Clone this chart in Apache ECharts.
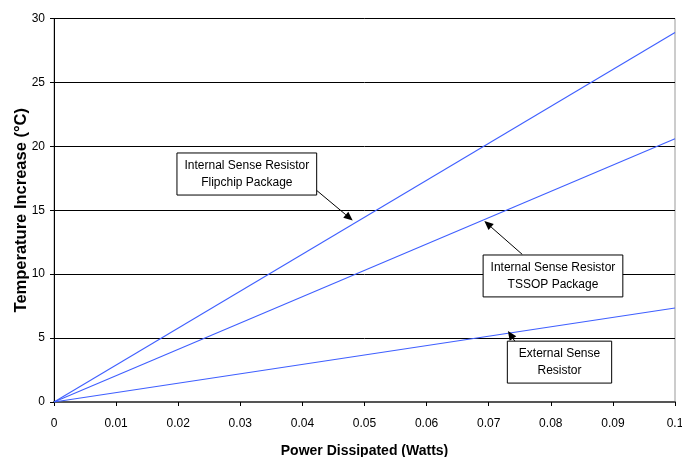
<!DOCTYPE html>
<html><head><meta charset="utf-8">
<script src="https://cdn.jsdelivr.net/npm/echarts@6/dist/echarts.min.js"></script>
<style>html,body{margin:0;padding:0;background:#fff}#c{width:682px;height:457px}</style>
</head><body><div id="c"></div>
<script>
const xTicks = [0,0.01,0.02,0.03,0.04,0.05,0.06,0.07,0.08,0.09,0.1];
const flipchip = [[0,0],[0.1,28.9]];
const tssop = [[0,0],[0.1,20.6]];
const external = [[0,0],[0.1,7.35]];
// annotations: box (data coords: x0,x1,yTop,yBottom), arrow from -> to
const notes = [
  {lines:['Internal Sense Resistor','Flipchip Package'], box:[0.0198,0.0423,19.48,16.19], from:[0.0423,16.55], to:[0.0481,14.2]},
  {lines:['Internal Sense Resistor','TSSOP Package'], box:[0.0691,0.0916,11.5,8.22], from:[0.0754,11.55], to:[0.0693,14.15]},
  {lines:['External Sense','Resistor'], box:[0.0730,0.0898,4.76,1.48], from:[0.0742,4.76], to:[0.0731,5.56]}
];
const chart = echarts.init(document.getElementById('c'));
const font = 'Liberation Sans, Arial, sans-serif';
const mk = (name,data)=>({name,type:'line',data,symbol:'none',lineStyle:{color:'#3f5fff',width:1.1},silent:true});
chart.setOption({
  animation:false,
  grid:{left:54,right:7,top:18.5,bottom:55,outerBoundsMode:'none',containLabel:false,show:true,borderColor:'#999',borderWidth:1},
  xAxis:{type:'value',min:0,max:0.1,interval:0.01,
    name:'Power Dissipated (Watts)',nameLocation:'middle',nameGap:42,nameMoveOverlap:false,
    nameTextStyle:{fontFamily:font,fontSize:14,fontWeight:'bold',color:'#000'},
    axisLine:{lineStyle:{color:'#555',width:2}},
    axisTick:{show:true,length:4,lineStyle:{color:'#000'}},
    axisLabel:{fontFamily:font,fontSize:12,color:'#000',margin:16,formatter:v=>{const i=xTicks.findIndex(t=>Math.abs(t-v)<1e-9);return i>=0?String(xTicks[i]):'';}},
    splitLine:{show:false}},
  yAxis:{type:'value',min:0,max:30,interval:5,
    name:'Temperature Increase (°C)',nameLocation:'middle',nameGap:24,nameMoveOverlap:false,
    nameTextStyle:{fontFamily:font,fontSize:16.5,fontWeight:'bold',color:'#000'},
    axisLine:{show:true,lineStyle:{color:'#000',width:1}},
    axisTick:{show:true,length:4,lineStyle:{color:'#000'}},
    axisLabel:{fontFamily:font,fontSize:12,color:'#000',margin:9},
    splitLine:{lineStyle:{color:'#000',width:1}}},
  series:[mk('Flipchip',flipchip),mk('TSSOP',tssop),mk('External',external)]
});
const els=[];
notes.forEach(n=>{
  const p0=chart.convertToPixel({gridIndex:0},[n.box[0],n.box[2]]);
  const p1=chart.convertToPixel({gridIndex:0},[n.box[1],n.box[3]]);
  const w=p1[0]-p0[0], h=p1[1]-p0[1];
  els.push({type:'rect',shape:{x:p0[0],y:p0[1],width:w,height:h},style:{fill:'#fff',stroke:'#000',lineWidth:1},z:10});
  els.push({type:'text',x:p0[0]+w/2,y:p0[1]+h/2,style:{text:n.lines.join('\n'),font:'12px '+font,fill:'#000',align:'center',verticalAlign:'middle',lineHeight:17},z:11});
  const a=chart.convertToPixel({gridIndex:0},n.from), b=chart.convertToPixel({gridIndex:0},n.to);
  const ang=Math.atan2(b[1]-a[1],b[0]-a[0]), L=9, W=4;
  const bx=b[0]-L*Math.cos(ang), by=b[1]-L*Math.sin(ang);
  els.push({type:'line',shape:{x1:a[0],y1:a[1],x2:bx,y2:by},style:{stroke:'#000',lineWidth:1},z:10});
  els.push({type:'polygon',shape:{points:[[b[0],b[1]],[bx+W*Math.sin(ang),by-W*Math.cos(ang)],[bx-W*Math.sin(ang),by+W*Math.cos(ang)]]},style:{fill:'#000'},z:10});
});
chart.setOption({graphic:{elements:els}});
</script></body></html>
